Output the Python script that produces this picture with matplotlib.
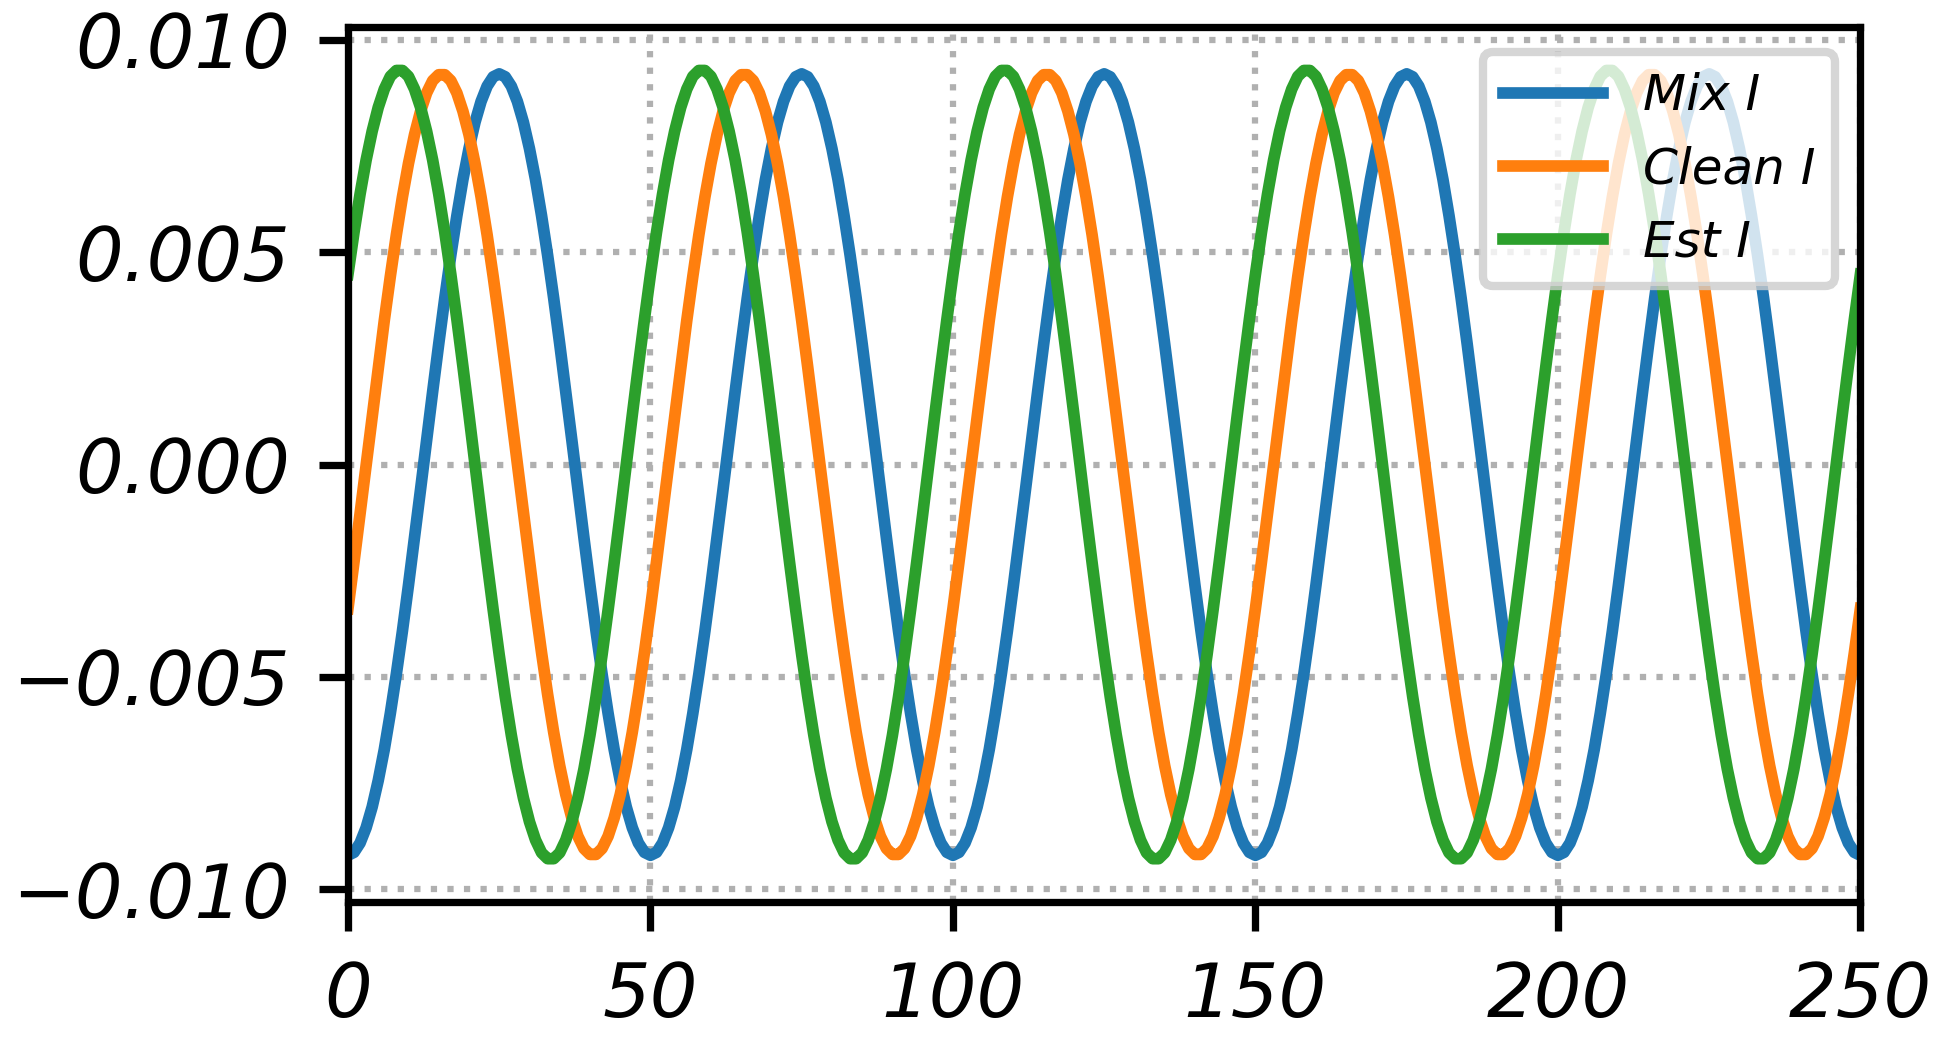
import numpy as np
import matplotlib
matplotlib.use("Agg")
import matplotlib.pyplot as plt

# values in units of 1e-4, one sample per index 0..250
mix_i = [
    -92.0,-91.3,-89.1,-85.5,-80.6,-74.4,-67.1,-58.6,-49.3,-39.2,-28.4,-17.2,-5.8,5.8,17.2,28.4,39.2,49.3,58.6,67.1,74.4,80.6,85.5,89.1,91.3,92.0,91.3,89.1,85.5,80.6,74.4,67.1,58.6,49.3,39.2,28.4,17.2,5.8,-5.8,-17.2,-28.4,-39.2,-49.3,-58.6,-67.1,-74.4,-80.6,-85.5,-89.1,-91.3,
    -92.0,-91.3,-89.1,-85.5,-80.6,-74.4,-67.1,-58.6,-49.3,-39.2,-28.4,-17.2,-5.8,5.8,17.2,28.4,39.2,49.3,58.6,67.1,74.4,80.6,85.5,89.1,91.3,92.0,91.3,89.1,85.5,80.6,74.4,67.1,58.6,49.3,39.2,28.4,17.2,5.8,-5.8,-17.2,-28.4,-39.2,-49.3,-58.6,-67.1,-74.4,-80.6,-85.5,-89.1,-91.3,
    -92.0,-91.3,-89.1,-85.5,-80.6,-74.4,-67.1,-58.6,-49.3,-39.2,-28.4,-17.2,-5.8,5.8,17.2,28.4,39.2,49.3,58.6,67.1,74.4,80.6,85.5,89.1,91.3,92.0,91.3,89.1,85.5,80.6,74.4,67.1,58.6,49.3,39.2,28.4,17.2,5.8,-5.8,-17.2,-28.4,-39.2,-49.3,-58.6,-67.1,-74.4,-80.6,-85.5,-89.1,-91.3,
    -92.0,-91.3,-89.1,-85.5,-80.6,-74.4,-67.1,-58.6,-49.3,-39.2,-28.4,-17.2,-5.8,5.8,17.2,28.4,39.2,49.3,58.6,67.1,74.4,80.6,85.5,89.1,91.3,92.0,91.3,89.1,85.5,80.6,74.4,67.1,58.6,49.3,39.2,28.4,17.2,5.8,-5.8,-17.2,-28.4,-39.2,-49.3,-58.6,-67.1,-74.4,-80.6,-85.5,-89.1,-91.3,
    -92.0,-91.3,-89.1,-85.5,-80.6,-74.4,-67.1,-58.6,-49.3,-39.2,-28.4,-17.2,-5.8,5.8,17.2,28.4,39.2,49.3,58.6,67.1,74.4,80.6,85.5,89.1,91.3,92.0,91.3,89.1,85.5,80.6,74.4,67.1,58.6,49.3,39.2,28.4,17.2,5.8,-5.8,-17.2,-28.4,-39.2,-49.3,-58.6,-67.1,-74.4,-80.6,-85.5,-89.1,-91.3,
    -92.0,
]
clean_i = [
    -33.9,-22.9,-11.5,0.0,11.5,22.9,33.9,44.3,54.1,63.0,70.9,77.7,83.2,87.5,90.4,91.8,91.8,90.4,87.5,83.2,77.7,70.9,63.0,54.1,44.3,33.9,22.9,11.5,0.0,-11.5,-22.9,-33.9,-44.3,-54.1,-63.0,-70.9,-77.7,-83.2,-87.5,-90.4,-91.8,-91.8,-90.4,-87.5,-83.2,-77.7,-70.9,-63.0,-54.1,-44.3,
    -33.9,-22.9,-11.5,0.0,11.5,22.9,33.9,44.3,54.1,63.0,70.9,77.7,83.2,87.5,90.4,91.8,91.8,90.4,87.5,83.2,77.7,70.9,63.0,54.1,44.3,33.9,22.9,11.5,0.0,-11.5,-22.9,-33.9,-44.3,-54.1,-63.0,-70.9,-77.7,-83.2,-87.5,-90.4,-91.8,-91.8,-90.4,-87.5,-83.2,-77.7,-70.9,-63.0,-54.1,-44.3,
    -33.9,-22.9,-11.5,0.0,11.5,22.9,33.9,44.3,54.1,63.0,70.9,77.7,83.2,87.5,90.4,91.8,91.8,90.4,87.5,83.2,77.7,70.9,63.0,54.1,44.3,33.9,22.9,11.5,0.0,-11.5,-22.9,-33.9,-44.3,-54.1,-63.0,-70.9,-77.7,-83.2,-87.5,-90.4,-91.8,-91.8,-90.4,-87.5,-83.2,-77.7,-70.9,-63.0,-54.1,-44.3,
    -33.9,-22.9,-11.5,0.0,11.5,22.9,33.9,44.3,54.1,63.0,70.9,77.7,83.2,87.5,90.4,91.8,91.8,90.4,87.5,83.2,77.7,70.9,63.0,54.1,44.3,33.9,22.9,11.5,0.0,-11.5,-22.9,-33.9,-44.3,-54.1,-63.0,-70.9,-77.7,-83.2,-87.5,-90.4,-91.8,-91.8,-90.4,-87.5,-83.2,-77.7,-70.9,-63.0,-54.1,-44.3,
    -33.9,-22.9,-11.5,0.0,11.5,22.9,33.9,44.3,54.1,63.0,70.9,77.7,83.2,87.5,90.4,91.8,91.8,90.4,87.5,83.2,77.7,70.9,63.0,54.1,44.3,33.9,22.9,11.5,0.0,-11.5,-22.9,-33.9,-44.3,-54.1,-63.0,-70.9,-77.7,-83.2,-87.5,-90.4,-91.8,-91.8,-90.4,-87.5,-83.2,-77.7,-70.9,-63.0,-54.1,-44.3,
    -33.9,
]
est_i = [
    44.8,54.7,63.7,71.7,78.5,84.1,88.4,91.4,92.8,92.8,91.4,88.4,84.1,78.5,71.7,63.7,54.7,44.8,34.2,23.1,11.7,0.0,-11.7,-23.1,-34.2,-44.8,-54.7,-63.7,-71.7,-78.5,-84.1,-88.4,-91.4,-92.8,-92.8,-91.4,-88.4,-84.1,-78.5,-71.7,-63.7,-54.7,-44.8,-34.2,-23.1,-11.7,0.0,11.7,23.1,34.2,
    44.8,54.7,63.7,71.7,78.5,84.1,88.4,91.4,92.8,92.8,91.4,88.4,84.1,78.5,71.7,63.7,54.7,44.8,34.2,23.1,11.7,0.0,-11.7,-23.1,-34.2,-44.8,-54.7,-63.7,-71.7,-78.5,-84.1,-88.4,-91.4,-92.8,-92.8,-91.4,-88.4,-84.1,-78.5,-71.7,-63.7,-54.7,-44.8,-34.2,-23.1,-11.7,0.0,11.7,23.1,34.2,
    44.8,54.7,63.7,71.7,78.5,84.1,88.4,91.4,92.8,92.8,91.4,88.4,84.1,78.5,71.7,63.7,54.7,44.8,34.2,23.1,11.7,0.0,-11.7,-23.1,-34.2,-44.8,-54.7,-63.7,-71.7,-78.5,-84.1,-88.4,-91.4,-92.8,-92.8,-91.4,-88.4,-84.1,-78.5,-71.7,-63.7,-54.7,-44.8,-34.2,-23.1,-11.7,0.0,11.7,23.1,34.2,
    44.8,54.7,63.7,71.7,78.5,84.1,88.4,91.4,92.8,92.8,91.4,88.4,84.1,78.5,71.7,63.7,54.7,44.8,34.2,23.1,11.7,0.0,-11.7,-23.1,-34.2,-44.8,-54.7,-63.7,-71.7,-78.5,-84.1,-88.4,-91.4,-92.8,-92.8,-91.4,-88.4,-84.1,-78.5,-71.7,-63.7,-54.7,-44.8,-34.2,-23.1,-11.7,0.0,11.7,23.1,34.2,
    44.8,54.7,63.7,71.7,78.5,84.1,88.4,91.4,92.8,92.8,91.4,88.4,84.1,78.5,71.7,63.7,54.7,44.8,34.2,23.1,11.7,0.0,-11.7,-23.1,-34.2,-44.8,-54.7,-63.7,-71.7,-78.5,-84.1,-88.4,-91.4,-92.8,-92.8,-91.4,-88.4,-84.1,-78.5,-71.7,-63.7,-54.7,-44.8,-34.2,-23.1,-11.7,0.0,11.7,23.1,34.2,
    44.8,
]
labels = ["Mix I", "Clean I", "Est I"]
colors = ["#1f77b4", "#ff7f0e", "#2ca02c"]
x_ticks = [0, 50, 100, 150, 200, 250]
y_ticks = [-0.010, -0.005, 0.000, 0.005, 0.010]

plt.rcParams['font.family'] = ['DejaVu Sans']
plt.rcParams['font.style'] = 'italic'

fig = plt.figure(figsize=(6.48, 3.48), dpi=300)
ax = fig.add_axes([0.179, 0.136, 0.778, 0.838])

n = np.arange(len(mix_i))
for vals, lab, c in zip([mix_i, clean_i, est_i], labels, colors):
    ax.plot(n, np.array(vals) * 1e-4, color=c, lw=2.8, label=lab)

ax.set_xlim(0, 250)
ax.set_ylim(-0.0103, 0.0103)
ax.set_xticks(x_ticks)
ax.set_yticks(y_ticks)
ax.set_yticklabels([f"{v:.3f}".replace("-", "\u2212") for v in y_ticks])
ax.grid(True, ls=':', lw=1.5, color='#b0b0b0')
for s in ax.spines.values():
    s.set_linewidth(1.75)
ax.tick_params(labelsize=18, length=7, width=1.75, pad=7)

leg = ax.legend(loc='upper right', fontsize=12, framealpha=0.8)
leg.get_frame().set_linewidth(2)

fig.savefig("out.png", dpi=300)
